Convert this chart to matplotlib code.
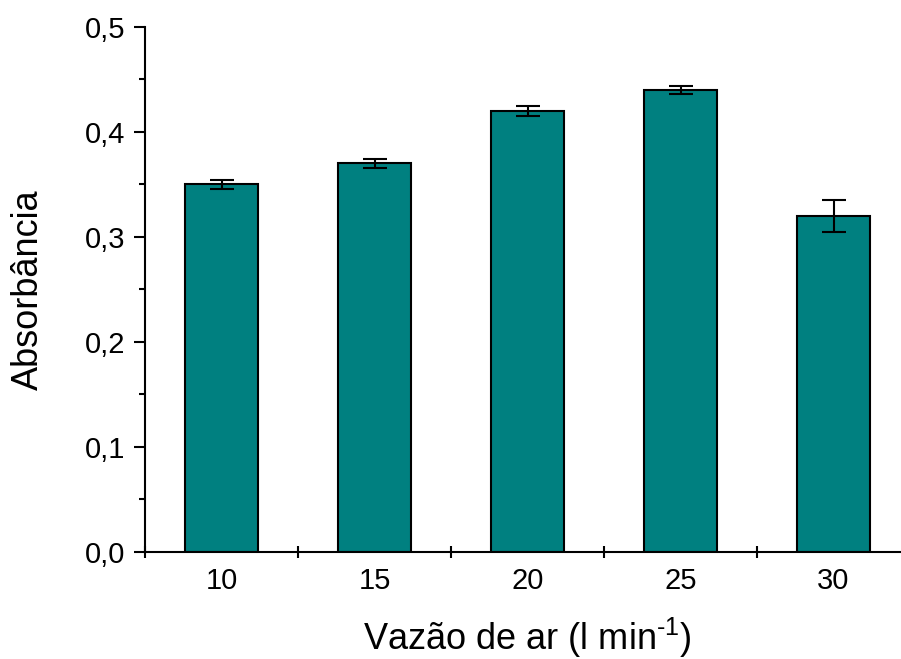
import matplotlib.pyplot as plt
import numpy as np
from matplotlib.ticker import MultipleLocator, FixedLocator

plt.rcParams['font.family'] = ['Liberation Sans', 'DejaVu Sans']
plt.rcParams['mathtext.fontset'] = 'custom'
plt.rcParams['mathtext.rm'] = 'Liberation Sans'
plt.rcParams['mathtext.it'] = 'Liberation Sans:italic'

# dados
vazao = ['10', '15', '20', '25', '30']
absorbancia = [0.350, 0.370, 0.420, 0.440, 0.320]
erro = [0.004, 0.004, 0.005, 0.004, 0.015]

fig = plt.figure(figsize=(9.01, 6.59), dpi=100)
ax = fig.add_axes([0.161, 0.1624, 0.849, 0.797])

xpos = np.arange(1, len(vazao) + 1)
ax.bar(xpos, absorbancia, width=0.48, color='#008080', edgecolor='black', linewidth=1.5, zorder=2)
ax.errorbar(xpos, absorbancia, yerr=erro, fmt='none', ecolor='black', elinewidth=1.5,
            capsize=8.5, capthick=1.5, zorder=3)

ax.set_xlim(0.5, 5.5)
ax.set_ylim(0, 0.5)

ax.spines['top'].set_visible(False)
ax.spines['right'].set_visible(False)
ax.spines['left'].set_linewidth(1.5)
ax.spines['bottom'].set_linewidth(1.5)

ax.set_xticks(xpos)
ax.set_xticklabels(vazao)
ax.xaxis.set_minor_locator(FixedLocator(np.arange(0.5, 6, 1)))
ax.tick_params(axis='x', which='major', length=0, pad=11, labelsize=21)
ax.tick_params(axis='x', which='minor', direction='inout', length=9, width=1.5)

ax.yaxis.set_major_locator(MultipleLocator(0.1))
ax.yaxis.set_minor_locator(MultipleLocator(0.05))
ax.yaxis.set_major_formatter(lambda v, p: f"{v:.1f}".replace('.', ','))
ax.tick_params(axis='y', which='major', direction='out', length=8, width=1.5, pad=6, labelsize=21)
ax.tick_params(axis='y', which='minor', direction='out', length=4, width=1.5)

ax.set_xlabel('Vazão de ar (l min$^{\\text{-}1}$)', fontsize=26, labelpad=15)
ax.set_ylabel('Absorbância', fontsize=26, labelpad=28)

plt.savefig('out.png', dpi=100)
